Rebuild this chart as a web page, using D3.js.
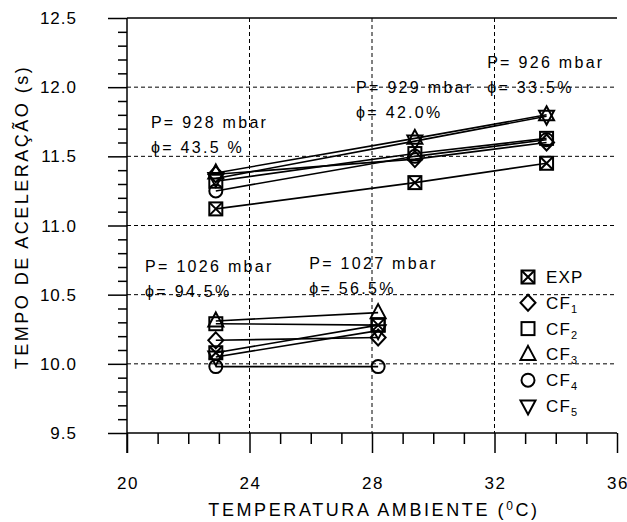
<!doctype html>
<html lang="pt">
<head>
<meta charset="UTF-8">
<title>Tempo de aceleração</title>
<style>
  body { margin: 0; background: #fff; }
  svg text { font-family: "Liberation Sans", Arial, sans-serif; fill: #000; }
  .grid line { stroke: #000; stroke-width: 1; stroke-dasharray: 4,3; }
  .ann { font-size: 16px; letter-spacing: 2.3px; }
</style>
</head>
<body>
<svg width="627" height="522"></svg>
<script src="https://cdn.jsdelivr.net/npm/d3@7"></script>
<script>
// ensaios a baixa umidade (3 temperaturas) e alta umidade (2 temperaturas)
const tempHigh = [22.9, 29.4, 33.7];
const tempLow = [22.9, 28.2];

const expHigh = [11.12, 11.31, 11.45];
const cf1High = [11.37, 11.48, 11.60];
const cf2High = [11.32, 11.52, 11.63];
const cf3High = [11.38, 11.63, 11.80];
const cf4High = [11.25, 11.50, 11.62];
const cf5High = [11.34, 11.61, 11.79];

const expLow = [10.08, 10.28];
const cf1Low = [10.17, 10.19];
const cf2Low = [10.29, 10.28];
const cf3Low = [10.31, 10.37];
const cf4Low = [9.98, 9.98];
const cf5Low = [10.05, 10.24];

const xTicks = [20, 24, 28, 32, 36];
const yTicks = [9.5, 10.0, 10.5, 11.0, 11.5, 12.0, 12.5];

// posição das anotações em unidades do gráfico
const notes = [
  {t: 20.78, v: 11.705, p: "P= 928 mbar", u: "ϕ= 43.5 %"},
  {t: 27.48, v: 11.958, p: "P= 929 mbar", u: "ϕ= 42.0%"},
  {t: 31.76, v: 12.139, p: "P= 926 mbar", u: "ϕ= 33.5%"},
  {t: 20.59, v: 10.664, p: "P= 1026 mbar", u: "ϕ= 94.5%"},
  {t: 25.95, v: 10.686, p: "P= 1027 mbar", u: "ϕ= 56.5%"}
];

const series = [
  {name: "EXP", sub: "", sym: "exp", high: expHigh, low: expLow},
  {name: "CF", sub: "1", sym: "diamond", high: cf1High, low: cf1Low},
  {name: "CF", sub: "2", sym: "square", high: cf2High, low: cf2Low},
  {name: "CF", sub: "3", sym: "triangle", high: cf3High, low: cf3Low},
  {name: "CF", sub: "4", sym: "circle", high: cf4High, low: cf4Low},
  {name: "CF", sub: "5", sym: "down", high: cf5High, low: cf5Low}
];

const svg = d3.select("svg");
const x = d3.scaleLinear().domain([20, 36]).range([127, 617]);
const y = d3.scaleLinear().domain([9.5, 12.5]).range([433, 18]);

// grade tracejada
const grid = svg.append("g").attr("class", "grid");
grid.selectAll(".gx").data([24, 28, 32]).enter().append("line")
  .attr("x1", d => x(d)).attr("x2", d => x(d))
  .attr("y1", y(12.5)).attr("y2", y(9.5));
grid.selectAll(".gy").data([10.0, 10.5, 11.0, 11.5, 12.0]).enter().append("line")
  .attr("x1", x(20)).attr("x2", x(36))
  .attr("y1", d => y(d)).attr("y2", d => y(d));

// borda superior
svg.append("line").attr("x1", x(20)).attr("x2", x(36))
  .attr("y1", y(12.5)).attr("y2", y(12.5))
  .attr("stroke", "#000").attr("stroke-width", 1.5);

// eixos
const yAxis = svg.append("g").attr("transform", "translate(" + x(20) + ",0)");
yAxis.call(d3.axisLeft(y).tickValues(d3.range(95, 126).map(d => d / 10))
    .tickSize(9).tickFormat(""));
yAxis.call(g => g.selectAll(".tick line").filter(d => Math.abs(d * 2 - Math.round(d * 2)) < 1e-6).attr("x2", -19));
yAxis.selectAll("path, line").attr("stroke", "#000").attr("stroke-width", 1.5);
yAxis.select(".domain").remove();
yAxis.append("line").attr("y1", y(12.5)).attr("y2", y(9.5) + 20)
  .attr("stroke", "#000").attr("stroke-width", 1.5);

svg.append("g").selectAll("text").data(yTicks).enter().append("text")
  .attr("x", 77).attr("y", d => y(d) + 6)
  .attr("text-anchor", "end").attr("font-size", 17).attr("letter-spacing", 1)
  .text(d => d.toFixed(1));

const xAxis = svg.append("g").attr("transform", "translate(0," + y(9.5) + ")");
xAxis.call(d3.axisBottom(x).tickValues(d3.range(20, 37)).tickSize(11).tickFormat(""));
xAxis.call(g => g.selectAll(".tick line").filter(d => d % 4 === 0).attr("y2", 20));
xAxis.select(".domain").attr("d", "M" + x(20) + ",0H" + x(36));
xAxis.selectAll("path, line").attr("stroke", "#000").attr("stroke-width", 1.5);

svg.append("g").selectAll("text").data(xTicks).enter().append("text")
  .attr("x", d => x(d) + 1).attr("y", 489)
  .attr("text-anchor", "middle").attr("font-size", 17).attr("letter-spacing", 1.5)
  .text(d => d);

// títulos
const xt = svg.append("text").attr("x", 374).attr("y", 516)
  .attr("text-anchor", "middle").attr("font-size", 18).attr("letter-spacing", 2.6);
xt.append("tspan").text("TEMPERATURA AMBIENTE (");
xt.append("tspan").attr("font-size", 12).attr("dy", -6).text("0");
xt.append("tspan").attr("dy", 6).text("C)");

svg.append("text")
  .attr("transform", "translate(28,217) rotate(-90)")
  .attr("text-anchor", "middle").attr("font-size", 18).attr("letter-spacing", 2.5)
  .text("TEMPO DE ACELERAÇÃO (s)");

// símbolos
function marker(g, sym, cx, cy) {
  const s = 6.5;
  const m = g.append("g").attr("transform", "translate(" + cx + "," + cy + ")")
    .attr("fill", "none").attr("stroke", "#000").attr("stroke-width", 2);
  if (sym === "exp") {
    m.append("rect").attr("x", -s).attr("y", -s).attr("width", 2 * s).attr("height", 2 * s);
    m.append("path").attr("d", `M${-s},${-s}L${s},${s}M${s},${-s}L${-s},${s}`);
  } else if (sym === "square") {
    m.append("rect").attr("x", -s).attr("y", -s).attr("width", 2 * s).attr("height", 2 * s);
  } else if (sym === "diamond") {
    m.append("path").attr("d", `M0,${-s - 1.5}L${s + 1},0L0,${s + 1.5}L${-s - 1},0Z`);
  } else if (sym === "triangle") {
    m.append("path").attr("d", `M0,${-s - 2}L${s + 1},${s - 1}L${-s - 1},${s - 1}Z`);
  } else if (sym === "down") {
    m.append("path").attr("d", `M0,${s + 2}L${s + 1},${-s + 1}L${-s - 1},${-s + 1}Z`);
  } else {
    m.append("circle").attr("r", s);
  }
}

const line = d3.line().x(d => x(d[0])).y(d => y(d[1]));
const plot = svg.append("g");
series.forEach(s => {
  [[tempHigh, s.high], [tempLow, s.low]].forEach(([ts, vs]) => {
    const pts = ts.map((t, i) => [t, vs[i]]);
    plot.append("path").attr("d", line(pts))
      .attr("fill", "none").attr("stroke", "#000").attr("stroke-width", 1.6);
    pts.forEach(p => marker(plot, s.sym, x(p[0]), y(p[1])));
  });
});

// anotações
notes.forEach(n => {
  svg.append("text").attr("class", "ann").attr("x", x(n.t)).attr("y", y(n.v)).text(n.p);
  svg.append("text").attr("class", "ann").attr("x", x(n.t)).attr("y", y(n.v) + 25).text(n.u);
});

// legenda
const leg = svg.append("g");
series.forEach((s, i) => {
  const ly = 277 + i * 25.8;
  marker(leg, s.sym, 528, ly);
  const t = leg.append("text").attr("x", 546).attr("y", ly + 6)
    .attr("font-size", 17).attr("letter-spacing", 1.2).text(s.name);
  if (s.sub) t.append("tspan").attr("font-size", 11).attr("dy", 4).text(s.sub);
});
</script>
</body>
</html>
